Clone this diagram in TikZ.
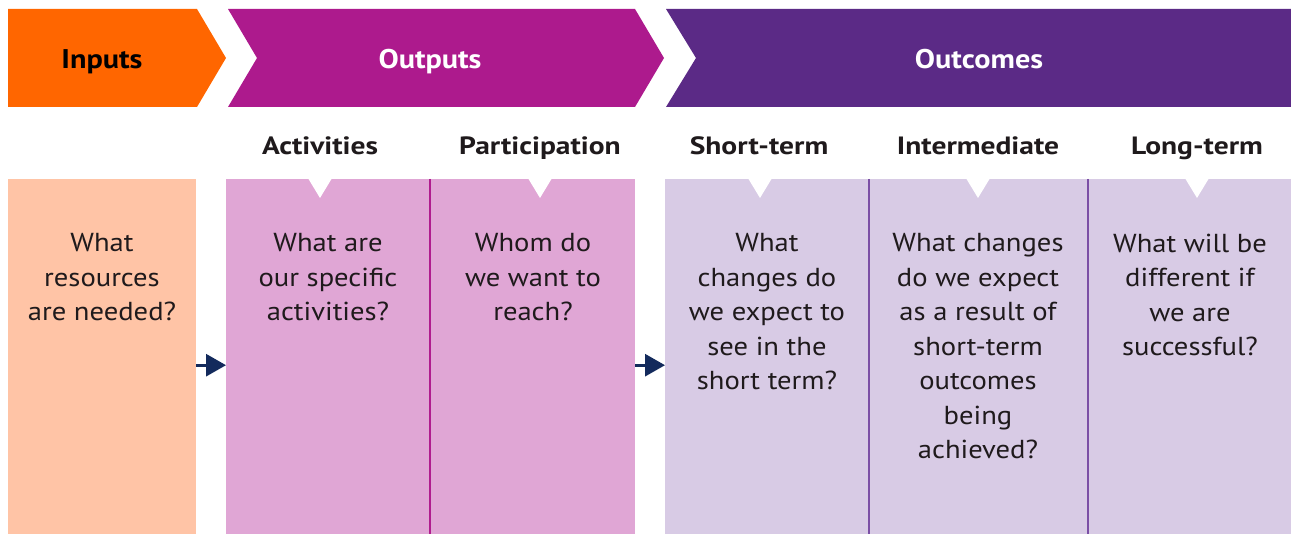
\documentclass[tikz,border=0pt]{standalone}
\usepackage{fontspec}
\setmainfont{PT Sans}[FakeStretch=1.1]
\newfontfamily\headfont{PT Sans}[FakeStretch=1.18]
\newfontfamily\banfont{PT Sans}[FakeStretch=1.12]
\usetikzlibrary{arrows.meta}
\definecolor{cOrange}{HTML}{FF6600}
\definecolor{cMagenta}{HTML}{AD1A8D}
\definecolor{cPurple}{HTML}{5B2A86}
\definecolor{cPeach}{HTML}{FFC4A6}
\definecolor{cPink}{HTML}{E0A6D5}
\definecolor{cLav}{HTML}{D8CBE5}
\definecolor{cNavy}{HTML}{132A5C}
\definecolor{cDivPink}{HTML}{B01C8E}
\definecolor{cDivPurple}{HTML}{7B4FA5}
\definecolor{cText}{HTML}{1F1A1C}
\begin{document}
\begin{tikzpicture}[x=1pt,y=-1pt,
  box/.style={rectangle, draw=none, inner sep=0pt, anchor=north west},
  bantext/.style={font=\banfont\fontsize{27}{32}\selectfont\bfseries, inner sep=0pt, anchor=base},
  headtext/.style={font=\headfont\fontsize{25}{30}\selectfont\bfseries, text=cText, inner sep=0pt, anchor=base},
  bodytext/.style={font=\fontsize{26}{34.5}\selectfont, text=cText, inner sep=0pt, align=center, anchor=north},
  flow/.style={draw=cNavy, line width=3pt, -{Triangle[length=20pt,width=22pt]}, shorten >=0pt},
  notch/.pic={\fill[white] (-11.5,0) -- (11.5,0) -- (0,19) -- cycle;}
]
\useasboundingbox (0,0) rectangle (1291,534);
% banner chevrons
\fill[cOrange] (8,9) -- (197,9) -- (226,58) -- (197,107) -- (8,107) -- cycle;
\fill[cMagenta] (228,9) -- (635,9) -- (664,58) -- (635,107) -- (228,107) -- (257,58) -- cycle;
\fill[cPurple] (666,9) -- (1291,9) -- (1291,107) -- (666,107) -- (696,58) -- cycle;
\node[bantext, text=black] (tin) at (102,68.5) {Inputs};
\node[bantext, text=white] (tout) at (430,68.5) {Outputs};
\node[bantext, text=white] (toc) at (979,68.5) {Outcomes};
% headers
\node[headtext] (hact) at (320,155) {Activities};
\node[headtext] (hpar) at (540,155) {Participation};
\node[headtext] (hst) at (759,155) {Short-term};
\node[headtext] (hint) at (978,155) {Intermediate};
\node[headtext] (hlt) at (1197,155) {Long-term};
% boxes
\node[box, fill=cPeach, minimum width=188pt, minimum height=355pt] (inbox) at (8,179) {};
\node[box, fill=cPink, minimum width=409pt, minimum height=355pt] (outbox) at (226,179) {};
\node[box, fill=cLav, minimum width=626pt, minimum height=355pt] (ocbox) at (665,179) {};
% dividers
\draw[cDivPink, line width=1.3pt] (430,179) -- (430,534);
\draw[cDivPurple, line width=1.3pt] (869,179) -- (869,534);
\draw[cDivPurple, line width=1.3pt] (1088,179) -- (1088,534);
% notches
\pic at (320,179) {notch};
\pic at (540,179) {notch};
\pic at (760,179) {notch};
\pic at (978,179) {notch};
\pic at (1197,179) {notch};
% arrows
\draw[flow] ([yshift=-8.5pt]inbox.east) -- ([yshift=-8.5pt]outbox.west);
\draw[flow] ([yshift=-8.5pt]outbox.east) -- ([yshift=-8.5pt]ocbox.west);
% body texts
\node[bodytext] (b1) at (102,233.5) {What\\resources\\are needed?};
\node[bodytext] (b2) at (328,233.5) {What are\\our specific\\activities?};
\node[bodytext] (b3) at (533,233.5) {Whom do\\we want to\\reach?};
\node[bodytext] (b4) at (767,233.5) {What\\changes do\\we expect to\\see in the\\short term?};
\node[bodytext] (b5) at (978,233.5) {What changes\\do we expect\\as a result of\\short-term\\outcomes\\being\\achieved?};
\node[bodytext] (b6) at (1190,233.5) {What will be\\different if\\we are\\successful?};
\end{tikzpicture}
\end{document}
